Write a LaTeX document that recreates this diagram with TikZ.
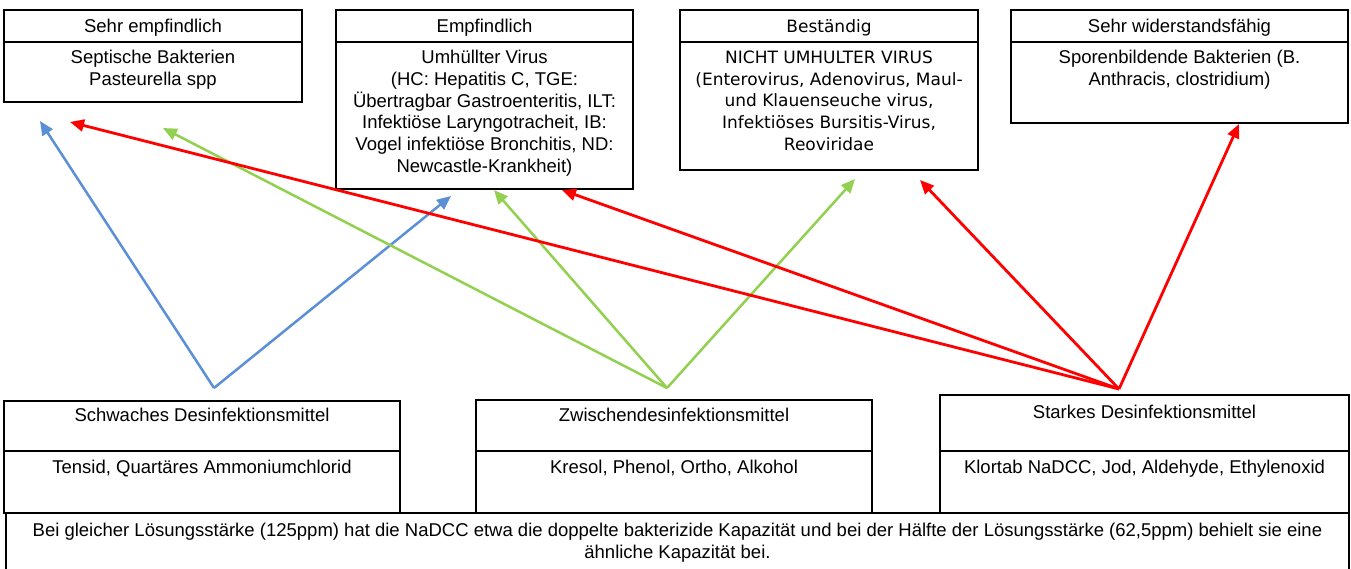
\documentclass[tikz,border=0pt]{standalone}
\usepackage{fontspec}
\setmainfont{Liberation Sans}
\newfontfamily\tahfont{DejaVu Sans}
\usetikzlibrary{arrows.meta}
\definecolor{arrblue}{HTML}{5B8FD6}
\definecolor{arrgreen}{HTML}{92D050}
\definecolor{arrred}{HTML}{FF0000}
\newcommand{\fsA}{\fontsize{18.5}{21.7}\selectfont\lineskiplimit=-30pt\lineskip=0pt}
\newcommand{\fsT}{\tahfont\fontsize{17}{21.7}\selectfont\lineskiplimit=-30pt\lineskip=0pt}
\begin{document}
\begin{tikzpicture}[x=1pt,y=-1pt,
  frame/.style={draw=black, line width=1.8pt, anchor=north west, inner sep=0pt, outer sep=0pt},
  hdrtext/.style={anchor=base, inner sep=0pt, font=\fsA},
  bodytext/.style={anchor=north, inner sep=0pt, align=center, font=\fsA},
  arr/.style={-{Triangle[length=14pt,width=12pt]}, line width=2.5pt},
]
\useasboundingbox (0,0) rectangle (1351,569);
\fill[white] (0,0) rectangle (1351,569);

% ---- top boxes ----
\node[frame, minimum width=298pt, minimum height=32pt] (h1) at (4,10) {};
\node[frame, minimum width=298pt, minimum height=60pt] (b1) at (4,42) {};
\node[hdrtext] (ht1) at (153,32.6) {Sehr empfindlich};
\node[bodytext] (bt1) at (153,48.4) {\strut Septische Bakterien\\Pasteurella spp};

\node[frame, minimum width=297pt, minimum height=32pt] (h2) at (336,10) {};
\node[frame, minimum width=297pt, minimum height=147pt] (b2) at (336,42) {};
\node[hdrtext] (ht2) at (484.5,32.6) {Empfindlich};
\node[bodytext] (bt2) at (484.5,48.4) {\strut Umhüllter Virus\\(HC: Hepatitis C, TGE:\\Übertragbar Gastroenteritis, ILT:\\Infektiöse Laryngotracheit, IB:\\Vogel infektiöse Bronchitis, ND:\\Newcastle-Krankheit)};

\node[frame, minimum width=298pt, minimum height=32pt] (h3) at (680,10) {};
\node[frame, minimum width=298pt, minimum height=128pt] (b3) at (680,42) {};
\node[hdrtext, font=\fsT] (ht3) at (829,32.2) {Beständig};
\node[bodytext, font=\fsT] (bt3) at (829,48) {\strut NICHT UMHULTER VIRUS\\(Enterovirus, Adenovirus, Maul-\\und Klauenseuche virus,\\Infektiöses Bursitis-Virus,\\Reoviridae};

\node[frame, minimum width=337pt, minimum height=32pt] (h4) at (1011,10) {};
\node[frame, minimum width=337pt, minimum height=81pt] (b4) at (1011,42) {};
\node[hdrtext] (ht4) at (1179.5,32.6) {Sehr widerstandsfähig};
\node[bodytext] (bt4) at (1179.5,48.4) {\strut Sporenbildende Bakterien (B.\\Anthracis, clostridium)};

% ---- bottom boxes ----
\node[frame, minimum width=396pt, minimum height=50pt] (hA) at (4,401) {};
\node[frame, minimum width=396pt, minimum height=62pt] (bA) at (4,451) {};
\node[hdrtext] (htA) at (202,421.6) {Schwaches Desinfektionsmittel};
\node[hdrtext] (btA) at (202,473.6) {Tensid, Quartäres Ammoniumchlorid};

\node[frame, minimum width=396pt, minimum height=51pt] (hB) at (476,400) {};
\node[frame, minimum width=396pt, minimum height=62pt] (bB) at (476,451) {};
\node[hdrtext] (htB) at (674,421.6) {Zwischendesinfektionsmittel};
\node[hdrtext] (btB) at (674,473.6) {Kresol, Phenol, Ortho, Alkohol};

\node[frame, minimum width=409pt, minimum height=56pt] (hC) at (940,395) {};
\node[frame, minimum width=409pt, minimum height=62pt] (bC) at (940,451) {};
\node[hdrtext] (htC) at (1144.5,418.6) {Starkes Desinfektionsmittel};
\node[hdrtext] (btC) at (1144.5,473.6) {Klortab NaDCC, Jod, Aldehyde, Ethylenoxid};

% ---- note ----
\node[frame, minimum width=1343pt, minimum height=70pt] (note) at (6,513) {};
\node[bodytext] (nt) at (677.5,521.4) {\strut Bei gleicher Lösungsstärke (125ppm) hat die NaDCC etwa die doppelte bakterizide Kapazität und bei der Hälfte der Lösungsstärke (62,5ppm) behielt sie eine\\ähnliche Kapazität bei.};

% ---- connectors ----
\coordinate (sw) at (214,388);
\coordinate (sm) at (667,388);
\coordinate (ss) at (1119,389);
\coordinate (bw1) at (40,121);
\coordinate (bw2) at (451,196);
\coordinate (gm1) at (163,128);
\coordinate (gm2) at (494,190);
\coordinate (gm3) at (855,179);
\coordinate (rs1) at (70,122);
\coordinate (rs2) at (562,190);
\coordinate (rs3) at (920,180);
\coordinate (rs4) at (1239,124);

\draw[arr, arrblue] (sw) -- (bw1);
\draw[arr, arrblue] (sw) -- (bw2);
\draw[arr, arrgreen] (sm) -- (gm1);
\draw[arr, arrgreen] (sm) -- (gm2);
\draw[arr, arrgreen] (sm) -- (gm3);
\draw[arr, arrred, line width=2.8pt] (ss) -- (rs1);
\draw[arr, arrred, line width=2.8pt] (ss) -- (rs2);
\draw[arr, arrred, line width=2.8pt] (ss) -- (rs3);
\draw[arr, arrred, line width=2.8pt] (ss) -- (rs4);
\end{tikzpicture}
\end{document}
